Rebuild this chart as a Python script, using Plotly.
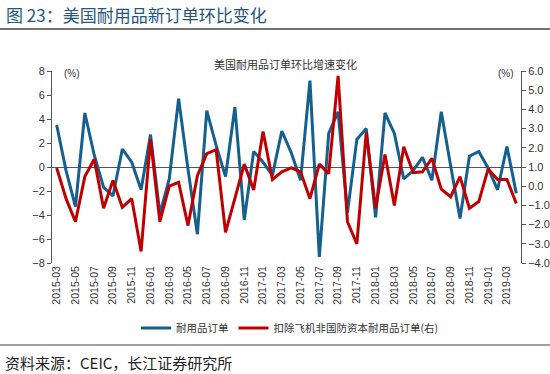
import plotly.graph_objects as go

months = []
y, m = 2015, 3
for _ in range(50):
    months.append(f"{y}-{m:02d}")
    m += 1
    if m > 12:
        m = 1
        y += 1

durable = [3.5, -0.3, -3.3, 4.5, 1.0, -1.7, -2.4, 1.5, 0.4, -1.9,
           2.7, -3.9, -1.0, 5.7, -0.2, -5.6, 4.7, 1.8, -0.8, 5.0,
           -4.4, 1.3, 0.4, -0.7, 3.0, 1.2, -1.1, 7.2, -7.5, 2.8,
           4.6, -3.8, 2.3, 3.2, -4.2, 4.5, 2.8, -1.0, -0.3, 0.8,
           -1.1, 4.6, 0.1, -4.3, 0.9, 1.3, -0.1, -1.9, 1.7, -2.2]

core_capex = [0.95, -0.65, -1.85, 0.5, 1.4, -1.15, 0.3, -1.1, -0.65, -3.4,
              2.45, -1.85, 0.0, 0.2, -2.05, 0.55, 1.7, 1.9, -2.4, -0.65,
              1.15, -0.2, 2.85, 0.35, 0.75, 0.95, 0.75, -0.65, 1.15, 0.65,
              5.75, -1.85, -3.0, 2.8, -1.15, 1.65, -1.0, 2.05, 0.7, 0.75,
              1.45, -0.15, -0.55, 0.5, -1.15, -0.8, 0.9, 0.35, 0.35, -0.9]

tick_labels = months[::2]

FONT = "Liberation Sans, Arial, Noto Sans CJK SC, sans-serif"
CJK = "Noto Sans CJK SC, Liberation Sans, sans-serif"
BLUE = "#15608F"
RED = "#C00000"
TXT = "#333333"

fig = go.Figure()
fig.add_trace(go.Scatter(x=months, y=durable, mode="lines", name="耐用品订单",
                         line=dict(color=BLUE, width=3)))
fig.add_trace(go.Scatter(x=months, y=core_capex, mode="lines",
                         name="扣除飞机非国防资本耐用品订单(右)",
                         line=dict(color=RED, width=3), yaxis="y2"))

L, R, T, B = 52, 29, 71, 111
W, H = 550, 374
pw, ph = W - L - R, H - T - B

def px(xp):
    return (xp - L) / pw

def py(yp):
    return (H - B - yp) / ph

fig.update_layout(
    width=W, height=H,
    margin=dict(l=L, r=R, t=T, b=B, autoexpand=False),
    paper_bgcolor="white", plot_bgcolor="white",
    font=dict(family=FONT, size=11, color=TXT),
    showlegend=True,
    legend=dict(orientation="h", x=px(290), xanchor="center", y=py(328), yanchor="middle",
                font=dict(family=CJK, size=10.5, color=TXT), itemwidth=30,
                bgcolor="rgba(0,0,0,0)"),
    xaxis=dict(type="category", categoryorder="array", categoryarray=months,
               tickmode="array", tickvals=tick_labels, ticktext=tick_labels,
               tickangle=-90, tickfont=dict(size=10.5, color=TXT), automargin=False,
               showgrid=False, showline=False, ticks="", zeroline=False,
               range=[-0.5, len(months) - 0.5]),
    yaxis=dict(range=[-8, 8], dtick=2, showgrid=False, zeroline=True,
               zerolinecolor="#555555", zerolinewidth=1, automargin=False,
               showline=True, linecolor="#555555", linewidth=1,
               ticks="outside", ticklen=4, tickcolor="#555555",
               tickfont=dict(size=11, color=TXT)),
    yaxis2=dict(range=[-4, 6], dtick=1, tickformat=".1f", overlaying="y", side="right",
                showgrid=False, zeroline=False, automargin=False,
                showline=True, linecolor="#555555", linewidth=1,
                ticks="outside", ticklen=4, tickcolor="#555555",
                tickfont=dict(size=11, color=TXT)),
)

fig.add_annotation(text="图 23：美国耐用品新订单环比变化", xref="paper", yref="paper",
                   x=px(4), y=py(15), xanchor="left", yanchor="middle", showarrow=False,
                   font=dict(family=CJK, size=17, color="#24567F"))
fig.add_annotation(text="美国耐用品订单环比增速变化", xref="paper", yref="paper",
                   x=px(285), y=py(64), xanchor="center", yanchor="middle", showarrow=False,
                   font=dict(family=CJK, size=11, color=TXT))
fig.add_annotation(text="(%)", xref="paper", yref="paper",
                   x=px(72), y=py(73), xanchor="center", yanchor="middle", showarrow=False,
                   font=dict(size=10, color=TXT))
fig.add_annotation(text="(%)", xref="paper", yref="paper",
                   x=px(506), y=py(73), xanchor="center", yanchor="middle", showarrow=False,
                   font=dict(size=10, color=TXT))
fig.add_annotation(text="资料来源：CEIC，长江证券研究所", xref="paper", yref="paper",
                   x=px(3), y=py(362), xanchor="left", yanchor="middle", showarrow=False,
                   font=dict(family=CJK, size=15, color="#222222"))

fig.add_shape(type="line", xref="paper", yref="paper", x0=px(0), x1=px(550),
              y0=py(29), y1=py(29), line=dict(color="#444444", width=1.5))
fig.add_shape(type="line", xref="paper", yref="paper", x0=px(0), x1=px(550),
              y0=py(345), y1=py(345), line=dict(color="#444444", width=1))

fig.write_html("out.html", config={"displayModeBar": False},
               post_script="document.body.style.margin='0';document.body.style.overflow='hidden';")
